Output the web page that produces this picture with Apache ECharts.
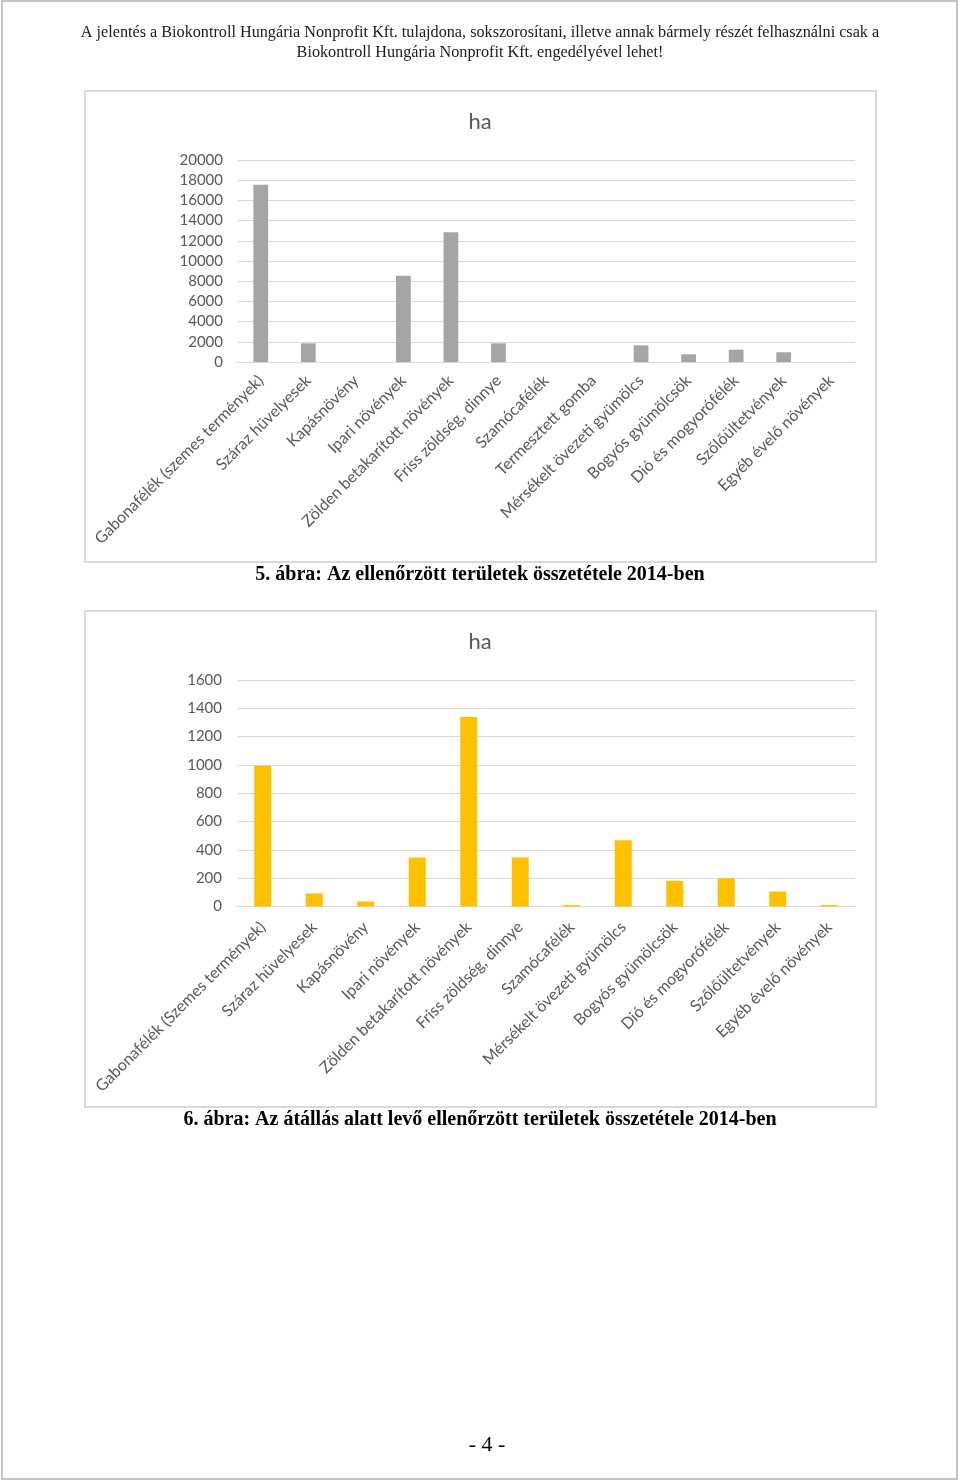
<!DOCTYPE html>
<html>
<head>
<meta charset="utf-8">
<script src="https://cdn.jsdelivr.net/npm/echarts@6/dist/echarts.min.js"></script>
<style>
html,body{margin:0;padding:0;background:#fff;}
#c{width:960px;height:1483px;}
</style>
</head>
<body>
<div id="c"></div>
<script>
// ---- data ----
const categories1 = ['Gabonafélék (szemes termények)','Száraz hüvelyesek','Kapásnövény','Ipari növények','Zölden betakarított növények','Friss zöldség, dinnye','Szamócafélék','Termesztett gomba','Mérsékelt övezeti gyümölcs','Bogyós gyümölcsök','Dió és mogyorófélék','Szőlőültetvények','Egyéb évelő növények'];
const values1 = [17560, 1850, 0, 8550, 12840, 1850, 0, 0, 1650, 760, 1220, 960, 0];
const categories2 = ['Gabonafélék (Szemes termények)','Száraz hüvelyesek','Kapásnövény','Ipari növények','Zölden betakarított növények','Friss zöldség, dinnye','Szamócafélék','Mérsékelt övezeti gyümölcs','Bogyós gyümölcsök','Dió és mogyorófélék','Szőlőültetvények','Egyéb évelő növények'];
const values2 = [995, 92, 35, 346, 1339, 346, 10, 468, 181, 200, 106, 10];
const yTicks1 = {min: 0, max: 20000, interval: 2000};
const yTicks2 = {min: 0, max: 1600, interval: 200};
const headerLine1 = 'A jelentés a Biokontroll Hungária Nonprofit Kft. tulajdona, sokszorosítani, illetve annak bármely részét felhasználni csak a';
const headerLine2 = 'Biokontroll Hungária Nonprofit Kft. engedélyével lehet!';
const caption1 = '5. ábra: Az ellenőrzött területek összetétele 2014-ben';
const caption2 = '6. ábra: Az átállás alatt levő ellenőrzött területek összetétele 2014-ben';
const unitTitle = 'ha';
const pageNumber = '- 4 -';

// ---- chart ----
const chart = echarts.init(document.getElementById('c'), null, {renderer: 'canvas'});
const FONT = 'Lato, "Open Sans", sans-serif';
const SERIF = '"Liberation Serif", "DejaVu Serif", serif';
const labelColor = '#595959';
const gridColor = '#d9d9d9';

function xAxis(cats, gi, margin) {
  return {
    type: 'category', gridIndex: gi, data: cats,
    axisTick: {show: false},
    axisLine: {lineStyle: {color: gridColor, width: 1}},
    axisLabel: {rotate: 45, interval: 0, color: labelColor, fontFamily: FONT, fontSize: 16, margin: margin}
  };
}
function yAxis(t, gi, margin) {
  return {
    type: 'value', gridIndex: gi, min: t.min, max: t.max, interval: t.interval,
    axisLine: {show: false}, axisTick: {show: false},
    splitLine: {lineStyle: {color: gridColor, width: 1}},
    axisLabel: {color: labelColor, fontFamily: FONT, fontSize: 15, margin: margin, formatter: v => String(v)}
  };
}

chart.setOption({
  animation: false,
  grid: [
    {left: 237, right: 105, top: 160, bottom: 1483 - 362},
    {left: 237, right: 105, top: 680, bottom: 1483 - 906.5}
  ],
  xAxis: [xAxis(categories1, 0, 16), xAxis(categories2, 1, 18)],
  yAxis: [yAxis(yTicks1, 0, 14), yAxis(yTicks2, 1, 15)],
  series: [
    {type: 'bar', xAxisIndex: 0, yAxisIndex: 0, data: values1, barWidth: '31%', itemStyle: {color: '#a5a5a5'}},
    {type: 'bar', xAxisIndex: 1, yAxisIndex: 1, data: values2, barWidth: '33%', itemStyle: {color: '#ffc000'}}
  ],
  graphic: [
    {type: 'rect', shape: {x: 2, y: 1, width: 955, height: 1478}, style: {fill: 'none', stroke: '#c4c4c4', lineWidth: 2}, z: -1},
    {type: 'rect', shape: {x: 85, y: 91, width: 791, height: 471}, style: {fill: 'none', stroke: gridColor, lineWidth: 2}, z: -1},
    {type: 'rect', shape: {x: 85, y: 611, width: 791, height: 496}, style: {fill: 'none', stroke: gridColor, lineWidth: 2}, z: -1},
    {type: 'text', x: 480, y: 122, style: {text: unitTitle, fontFamily: FONT, fontSize: 22, fill: labelColor, align: 'center', verticalAlign: 'middle'}},
    {type: 'text', x: 480, y: 642, style: {text: unitTitle, fontFamily: FONT, fontSize: 22, fill: labelColor, align: 'center', verticalAlign: 'middle'}},
    {type: 'text', x: 480, y: 33, style: {text: headerLine1, fontFamily: SERIF, fontSize: 16.2, fill: '#1a1a1a', align: 'center', verticalAlign: 'middle'}},
    {type: 'text', x: 480, y: 53, style: {text: headerLine2, fontFamily: SERIF, fontSize: 16.2, fill: '#1a1a1a', align: 'center', verticalAlign: 'middle'}},
    {type: 'text', x: 480, y: 575, style: {text: caption1, fontFamily: SERIF, fontSize: 20, fontWeight: 'bold', fill: '#000', align: 'center', verticalAlign: 'middle'}},
    {type: 'text', x: 480, y: 1120, style: {text: caption2, fontFamily: SERIF, fontSize: 20, fontWeight: 'bold', fill: '#000', align: 'center', verticalAlign: 'middle'}},
    {type: 'text', x: 487, y: 1445, style: {text: pageNumber, fontFamily: SERIF, fontSize: 22, fill: '#000', align: 'center', verticalAlign: 'middle'}}
  ]
});
</script>
</body>
</html>
